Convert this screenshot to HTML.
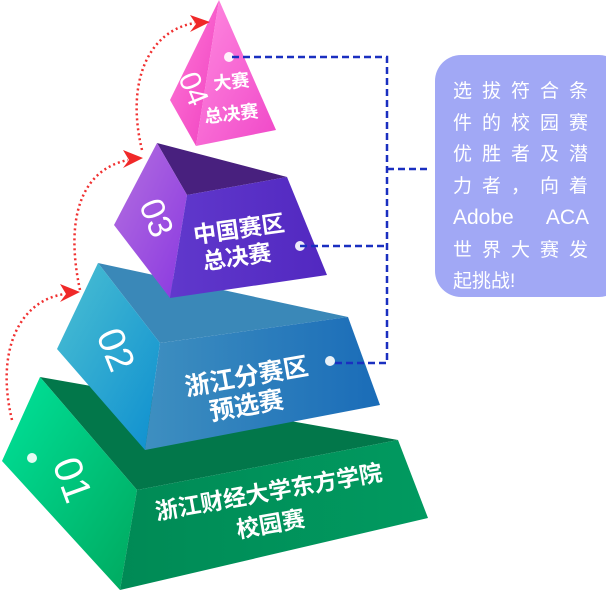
<!DOCTYPE html>
<html><head><meta charset="utf-8"><style>
html,body{margin:0;padding:0;background:#fff;}
svg{display:block;}
text{font-family:"Liberation Sans","Noto Sans CJK SC",sans-serif;fill:#fff;}
</style></head><body>
<svg width="606" height="592" viewBox="0 0 606 592" xmlns="http://www.w3.org/2000/svg">
<defs>
<linearGradient id="gL" x1="0" y1="0" x2="1" y2="1"><stop offset="0" stop-color="#00e39a"/><stop offset="1" stop-color="#00a85e"/></linearGradient>
<linearGradient id="gF" x1="0" y1="0" x2="1" y2="0"><stop offset="0" stop-color="#008a55"/><stop offset="1" stop-color="#019a60"/></linearGradient>
<linearGradient id="bL" x1="0" y1="0" x2="1" y2="1"><stop offset="0" stop-color="#4cc0d2"/><stop offset="1" stop-color="#0e8fd0"/></linearGradient>
<linearGradient id="bF" x1="0" y1="0" x2="1" y2="0"><stop offset="0" stop-color="#3e8fc0"/><stop offset="1" stop-color="#1a6cb8"/></linearGradient>
<linearGradient id="pL" x1="0" y1="0" x2="1" y2="1"><stop offset="0" stop-color="#b470e0"/><stop offset="1" stop-color="#8a38e0"/></linearGradient>
<linearGradient id="pF" x1="0" y1="0" x2="1" y2="0"><stop offset="0" stop-color="#6038cc"/><stop offset="1" stop-color="#5228c0"/></linearGradient>
<linearGradient id="kL" x1="0" y1="0" x2="1" y2="1"><stop offset="0" stop-color="#ff7ad8"/><stop offset="1" stop-color="#f040c0"/></linearGradient>
<linearGradient id="kF" x1="0" y1="0" x2="1" y2="1"><stop offset="0" stop-color="#ff8ae0"/><stop offset="1" stop-color="#f048c8"/></linearGradient>
</defs>
<!-- green -->
<polygon points="40,377 398,440 137,490" fill="#02774a"/>
<polygon points="40,377 2,461 120,590 137,490" fill="url(#gL)"/>
<polygon points="137,490 398,440 428,518 120,590" fill="url(#gF)"/>
<!-- blue -->
<polygon points="98,263 348,317 160,343" fill="#3a88b8"/>
<polygon points="98,263 57,349 145,450 160,343" fill="url(#bL)"/>
<polygon points="160,343 348,317 380,405 145,450" fill="url(#bF)"/>
<!-- purple -->
<polygon points="157,143 287,177 187,195" fill="#48207e"/>
<polygon points="157,143 114,225 170,298 187,195" fill="url(#pL)"/>
<polygon points="187,195 287,177 327,275 170,298" fill="url(#pF)"/>
<!-- pink -->
<polygon points="219,0 170,100 196,146" fill="url(#kL)"/>
<polygon points="219,0 196,146 276,130" fill="url(#kF)"/>
<!-- dots -->
<circle cx="229" cy="57" r="5" fill="#fff" opacity="0.9"/>
<circle cx="300" cy="246" r="5" fill="#fff" opacity="0.9"/>
<circle cx="330" cy="361" r="5" fill="#fff" opacity="0.9"/>
<circle cx="32" cy="458" r="5" fill="#fff" opacity="0.9"/>
<!-- dashed connectors -->
<g stroke="#1a2fc0" stroke-width="2.5" stroke-dasharray="7,4" fill="none">
<path d="M232 57 H387 V363 H333"/>
<path d="M300 246 H387"/>
<path d="M387 169 H428"/>
</g>
<!-- red dotted arrows -->
<g stroke="#f03030" stroke-width="2.5" stroke-dasharray="2,3" fill="none">
<path d="M12 420 C-5 350,20 300,65 294"/>
<path d="M80 290 C65 220,80 170,128 160"/>
<path d="M142 150 C125 80,150 30,195 23"/>
</g>
<g fill="#f02828">
<polygon points="80,292 60,284 66,294 60,302"/>
<polygon points="143,158 123,150 129,160 123,168"/>
<polygon points="210,22 190,15 196,24 190,32"/>
</g>
<!-- numbers -->
<g text-anchor="middle" dominant-baseline="central">
<text font-size="40" transform="translate(72,480) rotate(70)">01</text>
<text font-size="38" transform="translate(115,350) rotate(68)">02</text>
<text font-size="34" transform="translate(156,218) rotate(68)">03</text>
<text font-size="30" transform="translate(193,89) rotate(68)">04</text>
</g>
<!-- labels -->
<g font-weight="bold" text-anchor="middle">
<text font-size="18" transform="translate(232,88) rotate(-6)">大赛</text>
<text font-size="18" transform="translate(232,120) rotate(-6)">总决赛</text>
<text font-size="23" transform="translate(240,237) rotate(-8)">中国赛区</text>
<text font-size="23" transform="translate(238,265) rotate(-8)">总决赛</text>
<text font-size="25" transform="translate(248,385) rotate(-10)">浙江分赛区</text>
<text font-size="25" transform="translate(248,414) rotate(-10)">预选赛</text>
<text font-size="23" transform="translate(270,500) rotate(-10)">浙江财经大学东方学院</text>
<text font-size="23" transform="translate(272,532) rotate(-10)">校园赛</text>
</g>
<!-- box -->
<rect x="435" y="55" width="190" height="242" rx="26" fill="#a1a8f5"/>
<g font-size="19">
<text x="453" y="97" letter-spacing="10">选拔符合条</text>
<text x="453" y="129" letter-spacing="10">件的校园赛</text>
<text x="453" y="160" letter-spacing="10">优胜者及潜</text>
<text x="453" y="192" letter-spacing="10">力者，向着</text>
<text x="453" y="224" font-size="21">Adobe</text>
<text x="589" y="224" font-size="21" text-anchor="end">ACA</text>
<text x="453" y="256" letter-spacing="10">世界大赛发</text>
<text x="453" y="287">起挑战!</text>
</g>
</svg>
</body></html>
